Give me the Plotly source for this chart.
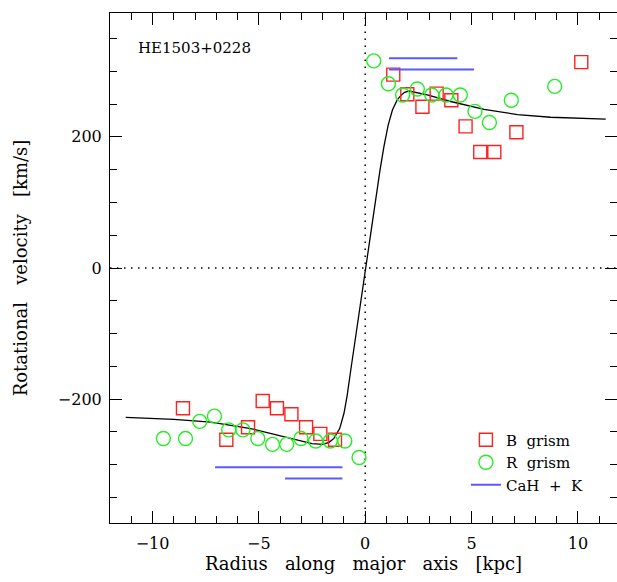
import plotly.graph_objects as go

# ---------------- data ----------------
b_radius = [10.16, 1.32, 1.98, 2.69, 3.36, 4.05, 4.72, 5.41, 6.07, 7.11,
            -8.57, -6.53, -5.51, -4.82, -4.15, -3.47, -2.78, -2.11, -1.42]
b_vel = [314, 295, 265, 246, 266, 256, 216, 177, 177, 207,
         -214, -262, -243, -203, -214, -223, -243, -253, -262]

r_radius = [0.40, 1.09, 1.76, 2.45, 3.13, 3.80, 4.47, 5.16, 5.84, 6.87, 8.91,
            -9.49, -8.45, -7.78, -7.09, -6.42, -5.75, -5.05, -4.36, -3.69,
            -3.02, -2.33, -1.64, -0.96, -0.29]
r_vel = [316, 281, 264, 273, 264, 264, 264, 239, 222, 256, 277,
         -260, -260, -234, -226, -247, -247, -260, -269, -269,
         -260, -264, -264, -264, -289]

cahk_x_start = [1.12, 1.12, -7.06, -3.77]
cahk_x_end = [4.33, 5.12, -1.07, -1.07]
cahk_vel = [320, 303, -304, -321]

model_radius = [-11.26, -9.0, -7.26, -5.38, -4.13, -3.19, -2.5, -2.0, -1.7, -1.47,
                -1.2, -1.0, -0.85, -0.68, -0.45, -0.2, 0.0, 0.2, 0.49, 0.7,
                0.88, 1.08, 1.28, 1.5, 1.67, 1.85, 2.06, 2.4, 2.92, 4.02,
                5.59, 7.16, 8.72, 11.31]
model_vel = [-228, -231, -235, -245, -255, -263, -268, -269, -266, -260,
             -245, -222, -195, -156, -105, -45, 0, 43, 106, 150,
             185, 218, 241, 256, 263, 268, 270, 268, 264, 254,
             242, 234, 230, 227]

x_tick_vals = [-10, -5, 0, 5, 10]
y_tick_vals = [-200, 0, 200]

FONT = "DejaVu Serif"
SP = "\u00a0\u00a0\u00a0"

# ---------------- figure ----------------
fig = go.Figure()

fig.add_trace(go.Scatter(
    x=model_radius, y=model_vel, mode="lines",
    line=dict(color="black", width=1.3), showlegend=False, hoverinfo="skip"))

fig.add_trace(go.Scatter(
    x=b_radius, y=b_vel, mode="markers", name="B\u00a0\u00a0grism",
    marker=dict(symbol="square-open", size=13, color="#ff2020",
                line=dict(width=1.4, color="#ff2020"))))

fig.add_trace(go.Scatter(
    x=r_radius, y=r_vel, mode="markers", name="R\u00a0\u00a0grism",
    marker=dict(symbol="circle-open", size=14, color="#22ee22",
                line=dict(width=1.4, color="#22ee22"))))

lx, ly = [], []
for xs, xe, v in zip(cahk_x_start, cahk_x_end, cahk_vel):
    lx += [xs, xe, None]
    ly += [v, v, None]
fig.add_trace(go.Scatter(
    x=lx, y=ly, mode="lines", name="CaH\u00a0\u00a0+\u00a0\u00a0K",
    line=dict(color="#5a5aff", width=2)))

# dotted zero lines
fig.add_shape(type="line", xref="x", yref="paper", x0=0, x1=0, y0=0, y1=1,
              line=dict(color="black", width=1.5, dash="1.5px,5.5px"), layer="below")
fig.add_shape(type="line", xref="paper", yref="y", x0=0, x1=1, y0=0, y1=0,
              line=dict(color="black", width=1.5, dash="1.5px,5.5px"), layer="below")

fig.add_annotation(text="HE1503+0228", xref="paper", yref="paper",
                   x=0.051, y=0.932, xanchor="left", yanchor="middle",
                   showarrow=False, font=dict(family=FONT, size=15, color="black"))

axis_common = dict(
    showgrid=False, zeroline=False, showline=True, linecolor="black", linewidth=1,
    mirror="allticks", ticks="inside", ticklen=12, tickwidth=1, tickcolor="black",
    tickfont=dict(family=FONT, size=16, color="black"),
)

fig.update_xaxes(
    **axis_common, range=[-12, 11.84], tickvals=x_tick_vals,
    minor=dict(dtick=1, tick0=0, ticks="inside", ticklen=7, tickcolor="black", tickwidth=1),
    ticklabelstandoff=6,
    title=dict(text=SP.join(["Radius", "along", "major", "axis", "[kpc]"]),
               font=dict(family=FONT, size=18, color="black"), standoff=5),
)
fig.update_yaxes(
    **axis_common, range=[-389, 389], tickvals=y_tick_vals,
    minor=dict(dtick=50, tick0=0, ticks="inside", ticklen=7, tickcolor="black", tickwidth=1),
    ticklabelstandoff=4,
    title=dict(text=SP.join(["Rotational", "velocity", "[km/s]"]),
               font=dict(family=FONT, size=18, color="black"), standoff=25),
)

fig.update_layout(
    width=617, height=582,
    margin=dict(l=110, r=0, t=13, b=59),
    paper_bgcolor="white", plot_bgcolor="white",
    showlegend=True,
    legend=dict(x=0.702, y=0.195, xanchor="left", yanchor="top",
                bgcolor="rgba(0,0,0,0)", font=dict(family=FONT, size=15, color="black"),
                itemsizing="trace", tracegroupgap=0),
)

fig.write_html("out.html")
